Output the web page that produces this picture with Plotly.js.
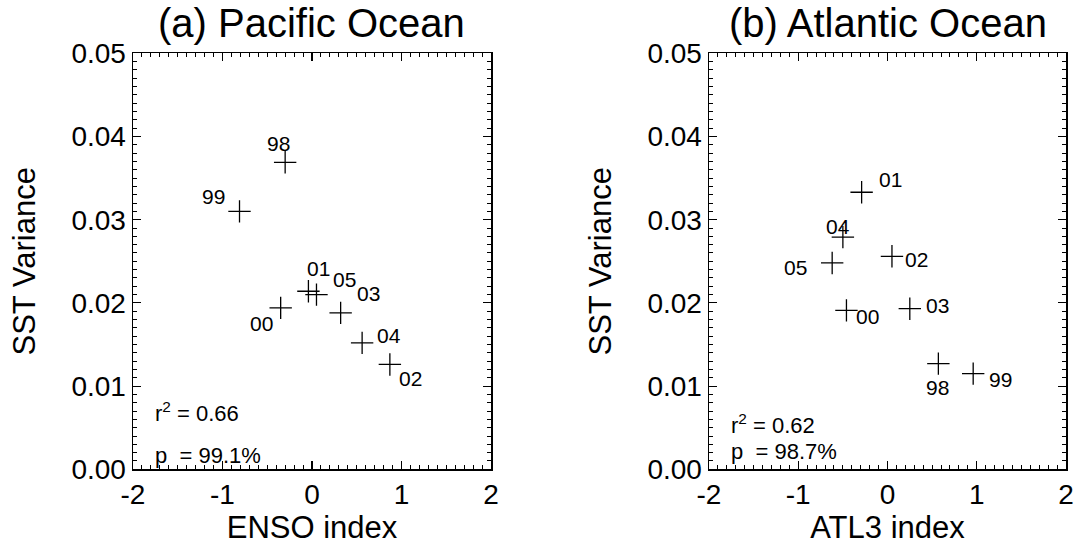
<!DOCTYPE html>
<html>
<head>
<meta charset="utf-8">
<script src="https://cdn.plot.ly/plotly-3.0.1.min.js"></script>
<style>html,body{margin:0;padding:0;background:#fff;}#chart{width:1080px;height:552px;}</style>
</head>
<body>
<div id="chart"></div>
<script>
// ---- data ----
const years = ['98', '99', '00', '01', '02', '03', '04', '05'];
const ensoIndex = [-0.30, -0.81, -0.35, -0.04, 0.87, 0.32, 0.56, 0.05];
const pacificVariance = [0.0369, 0.0310, 0.0194, 0.0214, 0.0126, 0.0188, 0.0152, 0.0210];
const atl3Index = [0.57, 0.96, -0.46, -0.29, 0.05, 0.25, -0.50, -0.62];
const atlanticVariance = [0.0127, 0.0115, 0.0191, 0.0333, 0.0256, 0.0193, 0.0279, 0.0248];
const xTickVals = [-2, -1, 0, 1, 2];
const xTickText = ['-2', '-1', '0', '1', '2'];
const yTickVals = [0, 0.01, 0.02, 0.03, 0.04, 0.05];
const yTickText = ['0.00', '0.01', '0.02', '0.03', '0.04', '0.05'];
const panelTitles = ['(a) Pacific Ocean', '(b) Atlantic Ocean'];
const xTitles = ['ENSO index', 'ATL3 index'];
const statsR2 = ['r<sup>2</sup> = 0.66', 'r<sup>2</sup> = 0.62'];
const statsP = ['p\u00a0 = 99.1%', 'p\u00a0 = 98.7%'];

// ---- label offsets (pixels) for year labels ----
const pacOffsets = [[-7, 19], [-26, 15], [-19, -16], [10, 23], [21, -14], [28, 19], [27, 7], [28, 15]];
const atlOffsets = [[-1, -24], [27, -6], [21, -6], [29, 13], [25, -3], [28, 3], [-5, 11], [-37, -5]];

const FONT = 'Liberation Sans, Arial, Helvetica, sans-serif';

function plusTrace(x, y, xa, ya) {
  return {
    type: 'scatter', mode: 'markers', x: x, y: y, xaxis: xa, yaxis: ya,
    marker: {symbol: 'cross-thin', size: 16, color: 'black', line: {width: 1.3, color: 'black'}},
    hoverinfo: 'skip', showlegend: false
  };
}

function xAxis(domain, title, anchor) {
  return {
    domain: domain, range: [-2, 2], anchor: anchor,
    tickmode: 'array', tickvals: xTickVals, ticktext: xTickText,
    ticks: 'inside', ticklen: 8, tickwidth: 1.2, tickcolor: 'black',
    minor: {dtick: 0.1, tick0: 0, ticks: 'inside', ticklen: 4, tickwidth: 1, tickcolor: 'black', showgrid: false},
    showline: true, linecolor: 'black', linewidth: 1.5, mirror: 'ticks',
    showgrid: false, zeroline: false,
    tickfont: {family: FONT, size: 28, color: 'black'},
    title: {text: title, font: {family: FONT, size: 31, color: 'black'}, standoff: 4},
    automargin: false, fixedrange: true
  };
}

function yAxis(domain, anchor) {
  return {
    domain: domain, range: [0, 0.05], anchor: anchor,
    tickmode: 'array', tickvals: yTickVals, ticktext: yTickText,
    ticks: 'inside', ticklen: 8, tickwidth: 1.2, tickcolor: 'black',
    minor: {dtick: 0.001, tick0: 0, ticks: 'inside', ticklen: 4, tickwidth: 1, tickcolor: 'black', showgrid: false},
    showline: true, linecolor: 'black', linewidth: 1.5, mirror: 'ticks',
    showgrid: false, zeroline: false,
    tickfont: {family: FONT, size: 28, color: 'black'},
    title: {text: 'SST Variance', font: {family: FONT, size: 31, color: 'black'}, standoff: 26},
    automargin: false, fixedrange: true
  };
}

const W = 1080, H = 552;
const yDom = [(H - 469.3) / H, (H - 53.3) / H];
const xDomL = [133 / W, 491 / W];
const xDomR = [709 / W, 1066 / W];

const annotations = [];
function addYearLabels(xs, ys, offs, xa, ya) {
  for (let i = 0; i < years.length; i++) {
    annotations.push({
      x: xs[i], y: ys[i], xref: xa, yref: ya, text: years[i], showarrow: false,
      xshift: offs[i][0], yshift: offs[i][1],
      font: {family: FONT, size: 21, color: 'black'}
    });
  }
}
addYearLabels(ensoIndex, pacificVariance, pacOffsets, 'x', 'y');
addYearLabels(atl3Index, atlanticVariance, atlOffsets, 'x2', 'y2');

[['x', 'y', 0.0069, 0.0017], ['x2', 'y2', 0.0054, 0.0022]].forEach(function (a, k) {
  annotations.push({x: -1.78, y: a[2], xref: a[0], yref: a[1], text: statsR2[k], showarrow: false,
    xanchor: 'left', font: {family: FONT, size: 22, color: 'black'}});
  annotations.push({x: -1.78, y: a[3], xref: a[0], yref: a[1], text: statsP[k], showarrow: false,
    xanchor: 'left', font: {family: FONT, size: 22, color: 'black'}});
});

[[xDomL, 0], [xDomR, 1]].forEach(function (d) {
  annotations.push({
    x: (d[0][0] + d[0][1]) / 2, y: (H - 47) / H, xref: 'paper', yref: 'paper',
    xanchor: 'center', yanchor: 'bottom', text: panelTitles[d[1]], showarrow: false,
    font: {family: FONT, size: 40, color: 'black'}
  });
});

const data = [
  plusTrace(ensoIndex, pacificVariance, 'x', 'y'),
  plusTrace(atl3Index, atlanticVariance, 'x2', 'y2')
];

const layout = {
  width: W, height: H,
  margin: {l: 0, r: 0, t: 0, b: 0},
  paper_bgcolor: 'white', plot_bgcolor: 'white',
  showlegend: false,
  xaxis: xAxis(xDomL, xTitles[0], 'y'),
  yaxis: yAxis(yDom, 'x'),
  xaxis2: xAxis(xDomR, xTitles[1], 'y2'),
  yaxis2: yAxis(yDom, 'x2'),
  annotations: annotations
};

Plotly.newPlot('chart', data, layout, {displayModeBar: false, staticPlot: true});
</script>
</body>
</html>
